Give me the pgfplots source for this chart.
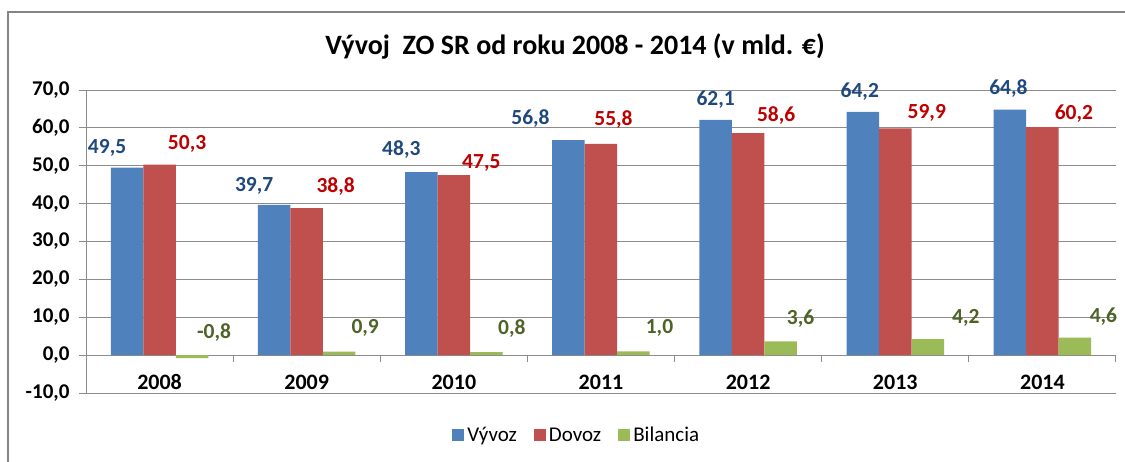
\documentclass[border=0pt]{standalone}
\usepackage{pgfplots}
\pgfplotsset{compat=1.18}
\usepackage{pgfplotstable}
\usepackage{fontspec}
\setmainfont{Carlito}
\definecolor{cVyv}{HTML}{4F81BD}
\definecolor{cDov}{HTML}{C0504D}
\definecolor{cBil}{HTML}{9BBB59}
\definecolor{lVyv}{HTML}{1F497D}
\definecolor{lDov}{HTML}{C00000}
\definecolor{lBil}{HTML}{4F6228}
\definecolor{gridc}{HTML}{8C8C8C}
\definecolor{framec}{HTML}{858585}

\pgfplotstableread{
x y dx dy
0 49.5 -20 20
1 39.7 -20 18.5
2 48.3 -20 23
3 56.8 -38 21
4 62.1 0 20
5 64.2 -3 20
6 64.8 -1.5 21
}\vyvoz
\pgfplotstableread{
x y dx dy
0 50.3 27.5 21
1 38.8 29 22
2 47.5 27.5 12
3 55.8 12.5 24.5
4 58.6 28 18
5 59.9 31.5 15
6 60.2 31.5 14
}\dovoz
\pgfplotstableread{
x y dx dy
0 -0.8 22 26
1 0.9 26 23.6
2 0.8 25.5 24
3 1.0 26 23
4 3.6 20 23
5 4.2 38 21
6 4.6 28.5 20.6
}\bilancia

\pgfplotsset{
  lblstyle/.style={
    nodes near coords={\pgfmathprintnumber[fixed, fixed zerofill, precision=1, use comma, assume math mode=true]{\pgfplotspointmeta}},
    nodes near coords align={center},
    visualization depends on={\thisrow{dx} \as \dx},
    visualization depends on={\thisrow{dy} \as \dy},
    every node near coord/.append style={anchor=center, xshift=\dx pt, yshift=\dy pt, font=\fontsize{21.5}{25}\selectfont\bfseries, text=#1},
  },
  sqlegend/.style={legend image code/.code={\fill[##1] (0pt,-6pt) rectangle (12pt,6pt);}},
}

\begin{document}
\begin{tikzpicture}
\useasboundingbox (0,0) rectangle (1125pt,461pt);
\draw[framec, line width=2pt] (8pt,-5pt) -- (8pt,449pt) -- (1130pt,449pt);
\node[font=\fontsize{28}{32}\selectfont\bfseries] at (575pt,415pt) {Vývoj\ \ ZO SR od roku 2008 - 2014 (v mld. €)};
\begin{axis}[
  at={(86pt,68pt)}, anchor=south west,
  scale only axis, width=1030pt, height=303pt,
  xmin=-0.5, xmax=6.5, ymin=-10, ymax=70,
  axis y line=left, axis x line=middle,
  every inner x axis line/.append style={-},
  every outer y axis line/.append style={-},
  axis line style={gridc, line width=1pt},
  clip=false,
  ybar=0pt, bar width=32.5pt,
  ytick={-10,0,...,70},
  ymajorgrids, grid style={gridc, line width=1pt},
  tick style={gridc, line width=1pt},
  major tick length=7pt, tick align=outside,
  yticklabel style={xshift=-6pt, font=\fontsize{21}{25}\selectfont\bfseries, /pgf/number format/fixed, /pgf/number format/fixed zerofill, /pgf/number format/precision=1, /pgf/number format/use comma, /pgf/number format/assume math mode=true},
  xtick={-0.5,0.5,...,6.5}, xticklabels={},
  extra x ticks={0,1,2,3,4,5,6},
  extra x tick labels={2008,2009,2010,2011,2012,2013,2014},
  extra x tick style={major tick length=0pt, grid=none, xticklabel style={yshift=-16pt, font=\fontsize{22}{26}\selectfont\bfseries}},
  legend style={at={(0.477,-0.139)}, anchor=center, draw=none, fill=none, legend columns=3,
    font=\fontsize{21}{25}\selectfont, /tikz/every even column/.append style={column sep=14pt},
    nodes={inner sep=3pt}},
]
\addplot[fill=cVyv, draw=none, lblstyle=lVyv, sqlegend] table[x=x, y=y] {\vyvoz};
\addlegendentry{Vývoz}
\addplot[fill=cDov, draw=none, lblstyle=lDov, sqlegend] table[x=x, y=y] {\dovoz};
\addlegendentry{Dovoz}
\addplot[fill=cBil, draw=none, lblstyle=lBil, sqlegend] table[x=x, y=y] {\bilancia};
\addlegendentry{Bilancia}
\end{axis}
\end{tikzpicture}
\end{document}
